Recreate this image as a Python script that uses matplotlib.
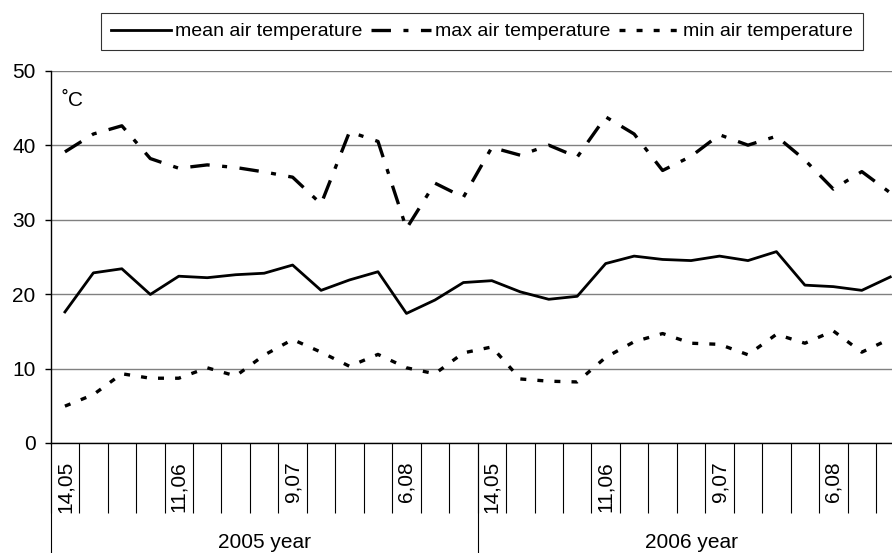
import matplotlib
matplotlib.use('Agg')
import matplotlib.pyplot as plt
import numpy as np

plt.rcParams['font.family'] = ['Liberation Sans', 'DejaVu Sans']
plt.rcParams['lines.scale_dashes'] = False

# ---- data ----
years = ["2005 year", "2006 year"]
weeks_per_year = [15, 15]
tick_labels = ["14,05", "", "", "", "11,06", "", "", "", "9,07", "", "", "", "6,08", "", "",
               "14,05", "", "", "", "11,06", "", "", "", "9,07", "", "", "", "6,08", "", ""]
mean_temp = [17.6, 22.85, 23.4, 19.95, 22.4, 22.2, 22.6, 22.8, 23.9, 20.5, 21.9, 23.0, 17.4, 19.2, 21.55,
             21.8, 20.3, 19.3, 19.7, 24.1, 25.1, 24.65, 24.5, 25.1, 24.5, 25.7, 21.2, 21.0, 20.5, 22.3]
max_temp = [39.1, 41.5, 42.6, 38.2, 36.9, 37.35, 37.0, 36.4, 35.7, 32.1, 41.8, 40.5, 28.8, 34.9, 33.0,
            39.7, 38.65, 40.0, 38.4, 43.8, 41.5, 36.6, 38.5, 41.4, 40.0, 41.2, 38.0, 34.1, 36.45, 33.6]
min_temp = [4.95, 6.5, 9.3, 8.7, 8.7, 10.1, 9.0, 11.8, 13.9, 12.2, 10.3, 11.9, 10.1, 9.3, 12.1,
            12.9, 8.6, 8.3, 8.2, 11.5, 13.6, 14.7, 13.4, 13.25, 11.85, 14.6, 13.4, 15.05, 12.2, 14.0]

W, H = 892, 553
fig = plt.figure(figsize=(W / 100, H / 100), dpi=100)
ax = fig.add_axes([50.7 / W, 110 / H, 853.8 / W, 372.3 / H])

x = np.arange(len(mean_temp))
ax.plot(x, mean_temp, color='black', lw=2.0, label='mean air temperature')
ax.plot(x, max_temp, color='black', lw=2.4, linestyle=(0, (14, 9, 3.6, 9)), label='max air temperature')
ax.plot(x, min_temp, color='black', lw=2.4, linestyle=(0, (4.3, 8)), label='min air temperature')

ax.set_xlim(-0.5, len(x) - 0.5)
ax.set_ylim(0, 50)
ax.set_yticks(np.arange(0, 51, 10))
ax.yaxis.grid(True, color='#808080', lw=1.0)
ax.set_axisbelow(True)
for s in ['top', 'right']:
    ax.spines[s].set_visible(False)
for s in ['left', 'bottom']:
    ax.spines[s].set_color('black')
    ax.spines[s].set_linewidth(1.0)

ax.tick_params(axis='y', length=4, width=1, pad=7, labelsize=15)

ax.set_xticks(x)
ax.set_xticklabels(tick_labels, rotation=90, fontsize=15)
ax.tick_params(axis='x', which='major', length=0, pad=13)
ax.set_xticks(np.arange(len(x) + 1) - 0.5, minor=True)
ax.tick_params(axis='x', which='minor', length=50.4, width=0.8, color='black', direction='out')

trans = ax.get_xaxis_transform()
start = -0.5
for yr, n in zip(years, weeks_per_year):
    ax.plot([start, start], [0, -0.35], transform=trans, clip_on=False, color='black', lw=0.8)
    ax.text(start + n / 2, -0.268, yr, transform=trans, ha='center', va='center', fontsize=15)
    start += n

ax.text(0.013, 0.945, '˚C', transform=ax.transAxes, ha='left', va='top', fontsize=15)

leg = fig.legend(loc='upper left', bbox_to_anchor=(101 / W, 1 - 13 / H), ncol=3, frameon=True,
                 fancybox=False, edgecolor='black', fontsize=14, handlelength=3.1,
                 handletextpad=0.2, columnspacing=0.45, borderpad=0.5, borderaxespad=0)
leg.get_frame().set_linewidth(0.8)

fig.savefig('out.png', dpi=100)
